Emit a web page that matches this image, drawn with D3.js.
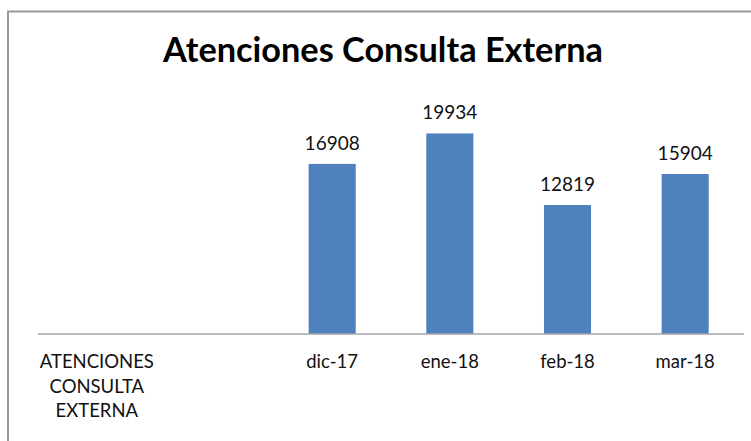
<!DOCTYPE html>
<html>
<head>
<meta charset="utf-8">
<script src="https://cdn.jsdelivr.net/npm/d3@7"></script>
<style>
  html, body { margin: 0; padding: 0; background: #fff; }
  svg { display: block; }
</style>
</head>
<body>
<svg id="chart" width="751" height="441"></svg>
<script>
// Categories along the x axis (the second one is an empty spacer column)
const categories = ["ATENCIONES CONSULTA EXTERNA", "", "dic-17", "ene-18", "feb-18", "mar-18"];
// Monthly outpatient consultations
const months = ["dic-17", "ene-18", "feb-18", "mar-18"];
const values = [16908, 19934, 12819, 15904];
const titleText = "Atenciones Consulta Externa";

const svg = d3.select("#chart");
const font = "Lato, 'Open Sans', sans-serif";

// Chart frame
svg.append("rect")
  .attr("x", 8).attr("y", 11.5)
  .attr("width", 760).attr("height", 440)
  .attr("fill", "#fff")
  .attr("stroke", "#9a9a9a")
  .attr("stroke-width", 2);

// Title
svg.append("text")
  .attr("x", 383).attr("y", 62)
  .attr("text-anchor", "middle")
  .attr("font-family", font)
  .attr("font-weight", "bold")
  .attr("font-size", 34.3)
  .attr("fill", "#000")
  .text(titleText);

const x = d3.scaleBand()
  .domain(categories)
  .range([38, 744])
  .paddingInner(0.6)
  .paddingOuter(0.3);

const y = d3.scaleLinear()
  .domain([0, 25000])
  .range([334, 82.5]);

const data = months.map((m, i) => ({ cat: m, value: values[i] }));

// Bars
svg.append("g")
  .selectAll("rect")
  .data(data)
  .join("rect")
  .attr("x", d => x(d.cat))
  .attr("y", d => y(d.value))
  .attr("width", x.bandwidth())
  .attr("height", d => y(0) - y(d.value))
  .attr("fill", "#4F81BD");

// Value labels
svg.append("g")
  .selectAll("text")
  .data(data)
  .join("text")
  .attr("x", d => x(d.cat) + x.bandwidth() / 2)
  .attr("y", d => y(d.value) - 14)
  .attr("text-anchor", "middle")
  .attr("font-family", font)
  .attr("font-size", 19)
  .attr("fill", "#111")
  .text(d => d.value);

// Category axis
const axis = svg.append("g")
  .attr("transform", `translate(0,${y(0)})`)
  .call(d3.axisBottom(x).tickSize(0).tickPadding(0));
axis.select(".domain")
  .attr("d", `M${x.range()[0]},0H${x.range()[1]}`)
  .attr("stroke", "#a6a6a6")
  .attr("stroke-width", 1.5);
axis.selectAll(".tick text").remove();

// Tick labels, wrapped onto separate lines where needed
axis.selectAll(".tick").each(function(d) {
  const words = d ? d.split(" ") : [];
  const t = d3.select(this).append("text")
    .attr("text-anchor", "middle")
    .attr("font-family", font)
    .attr("font-size", 18.5)
    .attr("fill", "#111");
  words.forEach((w, i) => {
    t.append("tspan")
      .attr("x", 0)
      .attr("y", 34 + i * 24.5)
      .text(w);
  });
});
</script>
</body>
</html>
